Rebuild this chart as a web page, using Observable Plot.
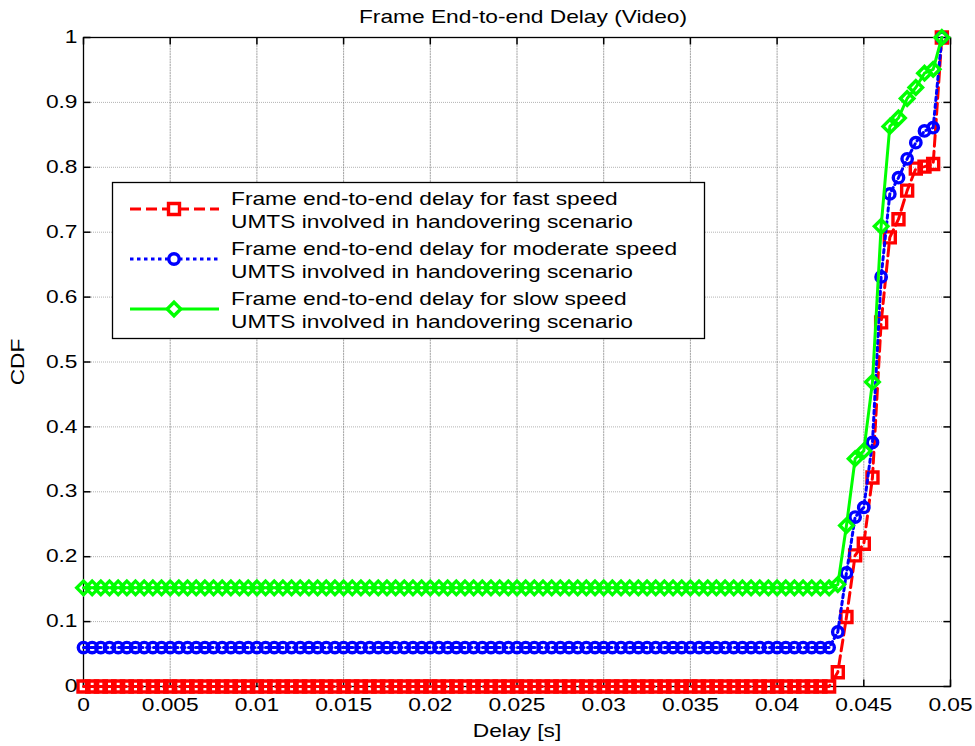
<!DOCTYPE html>
<html>
<head>
<meta charset="utf-8">
<script src="https://cdn.jsdelivr.net/npm/d3@7"></script>
<script src="https://cdn.jsdelivr.net/npm/@observablehq/plot@0.6"></script>
<style>
  body { margin: 0; background: #fff; }
  svg { display: block; }
</style>
</head>
<body>
<script>
// Delay sample points (s) at which each CDF was evaluated
const delay = [
  0, 0.0005, 0.001, 0.0015, 0.002, 0.0025, 0.003, 0.0035, 0.004, 0.0045,
  0.005, 0.0055, 0.006, 0.0065, 0.007, 0.0075, 0.008, 0.0085, 0.009, 0.0095,
  0.01, 0.0105, 0.011, 0.0115, 0.012, 0.0125, 0.013, 0.0135, 0.014, 0.0145,
  0.015, 0.0155, 0.016, 0.0165, 0.017, 0.0175, 0.018, 0.0185, 0.019, 0.0195,
  0.02, 0.0205, 0.021, 0.0215, 0.022, 0.0225, 0.023, 0.0235, 0.024, 0.0245,
  0.025, 0.0255, 0.026, 0.0265, 0.027, 0.0275, 0.028, 0.0285, 0.029, 0.0295,
  0.03, 0.0305, 0.031, 0.0315, 0.032, 0.0325, 0.033, 0.0335, 0.034, 0.0345,
  0.035, 0.0355, 0.036, 0.0365, 0.037, 0.0375, 0.038, 0.0385, 0.039, 0.0395,
  0.04, 0.0405, 0.041, 0.0415, 0.042, 0.0425, 0.043, 0.0435, 0.044, 0.0445,
  0.045, 0.0455, 0.046, 0.0465, 0.047, 0.0475, 0.048, 0.0485, 0.049, 0.0495
];

// CDF for fast speed UMTS handover
const fastCdf = [
  0, 0, 0, 0, 0, 0, 0, 0, 0, 0,
  0, 0, 0, 0, 0, 0, 0, 0, 0, 0,
  0, 0, 0, 0, 0, 0, 0, 0, 0, 0,
  0, 0, 0, 0, 0, 0, 0, 0, 0, 0,
  0, 0, 0, 0, 0, 0, 0, 0, 0, 0,
  0, 0, 0, 0, 0, 0, 0, 0, 0, 0,
  0, 0, 0, 0, 0, 0, 0, 0, 0, 0,
  0, 0, 0, 0, 0, 0, 0, 0, 0, 0,
  0, 0, 0, 0, 0, 0, 0, 0.022, 0.107, 0.202,
  0.220, 0.322, 0.561, 0.692, 0.720, 0.764, 0.798, 0.801, 0.805, 1.000
];

// CDF for moderate speed UMTS handover
const moderateCdf = [
  0.06, 0.06, 0.06, 0.06, 0.06, 0.06, 0.06, 0.06, 0.06, 0.06,
  0.06, 0.06, 0.06, 0.06, 0.06, 0.06, 0.06, 0.06, 0.06, 0.06,
  0.06, 0.06, 0.06, 0.06, 0.06, 0.06, 0.06, 0.06, 0.06, 0.06,
  0.06, 0.06, 0.06, 0.06, 0.06, 0.06, 0.06, 0.06, 0.06, 0.06,
  0.06, 0.06, 0.06, 0.06, 0.06, 0.06, 0.06, 0.06, 0.06, 0.06,
  0.06, 0.06, 0.06, 0.06, 0.06, 0.06, 0.06, 0.06, 0.06, 0.06,
  0.06, 0.06, 0.06, 0.06, 0.06, 0.06, 0.06, 0.06, 0.06, 0.06,
  0.06, 0.06, 0.06, 0.06, 0.06, 0.06, 0.06, 0.06, 0.06, 0.06,
  0.06, 0.06, 0.06, 0.06, 0.06, 0.06, 0.06, 0.084, 0.175, 0.261,
  0.276, 0.376, 0.631, 0.759, 0.784, 0.813, 0.838, 0.856, 0.861, 1.000
];

// CDF for slow speed UMTS handover
const slowCdf = [
  0.152, 0.152, 0.152, 0.152, 0.152, 0.152, 0.152, 0.152, 0.152, 0.152,
  0.152, 0.152, 0.152, 0.152, 0.152, 0.152, 0.152, 0.152, 0.152, 0.152,
  0.152, 0.152, 0.152, 0.152, 0.152, 0.152, 0.152, 0.152, 0.152, 0.152,
  0.152, 0.152, 0.152, 0.152, 0.152, 0.152, 0.152, 0.152, 0.152, 0.152,
  0.152, 0.152, 0.152, 0.152, 0.152, 0.152, 0.152, 0.152, 0.152, 0.152,
  0.152, 0.152, 0.152, 0.152, 0.152, 0.152, 0.152, 0.152, 0.152, 0.152,
  0.152, 0.152, 0.152, 0.152, 0.152, 0.152, 0.152, 0.152, 0.152, 0.152,
  0.152, 0.152, 0.152, 0.152, 0.152, 0.152, 0.152, 0.152, 0.152, 0.152,
  0.152, 0.152, 0.152, 0.152, 0.152, 0.152, 0.152, 0.157, 0.248, 0.351,
  0.363, 0.469, 0.709, 0.863, 0.876, 0.906, 0.923, 0.945, 0.951, 1.000
];

const xTicks = [0, 0.005, 0.01, 0.015, 0.02, 0.025, 0.03, 0.035, 0.04, 0.045, 0.05];
const xTickLabels = ["0", "0.005", "0.01", "0.015", "0.02", "0.025", "0.03", "0.035", "0.04", "0.045", "0.05"];
const yTicks = [0, 0.1, 0.2, 0.3, 0.4, 0.5, 0.6, 0.7, 0.8, 0.9, 1];
const yTickLabels = ["0", "0.1", "0.2", "0.3", "0.4", "0.5", "0.6", "0.7", "0.8", "0.9", "1"];

const titleText = "Frame End-to-end Delay (Video)";
const xLabel = "Delay [s]";
const yLabel = "CDF";
const legendLines = [
  ["Frame end-to-end delay for fast speed", "UMTS involved in handovering scenario"],
  ["Frame end-to-end delay for moderate speed", "UMTS involved in handovering scenario"],
  ["Frame end-to-end delay for slow speed", "UMTS involved in handovering scenario"]
];

// Marker shapes
const diamond = {
  draw(ctx, size) {
    const h = Math.sqrt(size / 2);
    ctx.moveTo(0, -h); ctx.lineTo(h, 0); ctx.lineTo(0, h); ctx.lineTo(-h, 0); ctx.closePath();
  }
};
const TICK = 7;
const tickUp = { draw(ctx) { ctx.moveTo(0, 0); ctx.lineTo(0, -TICK); } };
const tickDown = { draw(ctx) { ctx.moveTo(0, 0); ctx.lineTo(0, TICK); } };
const tickRight = { draw(ctx) { ctx.moveTo(0, 0); ctx.lineTo(TICK, 0); } };
const tickLeft = { draw(ctx) { ctx.moveTo(0, 0); ctx.lineTo(-TICK, 0); } };

const series = [
  { values: fastCdf, color: "#ff0000", dash: "11,5", symbol: "square", r: 6.2, sw: 3.4 },
  { values: moderateCdf, color: "#0000ff", dash: "3.5,3.5", symbol: "circle", r: 5.2, sw: 3.4 },
  { values: slowCdf, color: "#00ff00", dash: null, symbol: diamond, r: 5.4, sw: 3.4 }
];
const tables = series.map(s => delay.map((d, i) => ({ delay: d, cdf: s.values[i] })));

const FONT = "'Liberation Sans', Arial, Helvetica, sans-serif";
const FS = 17.5;
const STRETCH = 1.3;
const LINE_W = 3;

const seriesMarks = series.flatMap((s, k) => [
  Plot.line(tables[k], { x: "delay", y: "cdf", stroke: s.color, strokeWidth: LINE_W, strokeDasharray: s.dash }),
  Plot.dot(tables[k], { x: "delay", y: "cdf", symbol: () => s.symbol, r: s.r, stroke: s.color, strokeWidth: s.sw, fill: "none" })
]);

const svg = Plot.plot({
  width: 975,
  height: 746,
  marginLeft: 83,
  marginRight: 25,
  marginTop: 37,
  marginBottom: 60,
  style: { fontFamily: FONT, background: "#fff", color: "#000" },
  x: { domain: [0, 0.05], axis: null },
  y: { domain: [0, 1], axis: null },
  symbol: { type: "identity" },
  marks: [
    Plot.gridX(xTicks, { stroke: "#8a8a8a", strokeOpacity: 0.8, strokeDasharray: "2,0.7" }),
    Plot.gridY(yTicks, { stroke: "#808080", strokeOpacity: 0.6, strokeDasharray: "1,1" }),
    // inward ticks on all four sides
    Plot.dot(xTicks, { x: d => d, frameAnchor: "bottom", symbol: () => tickUp, stroke: "#000", fill: "none" }),
    Plot.dot(xTicks, { x: d => d, frameAnchor: "top", symbol: () => tickDown, stroke: "#000", fill: "none" }),
    Plot.dot(yTicks, { y: d => d, frameAnchor: "left", symbol: () => tickRight, stroke: "#000", fill: "none" }),
    Plot.dot(yTicks, { y: d => d, frameAnchor: "right", symbol: () => tickLeft, stroke: "#000", fill: "none" }),
    Plot.frame({ stroke: "#000", strokeWidth: 1.3 }),
    ...seriesMarks,
    // tick labels
    Plot.text(xTicks, { x: d => d, frameAnchor: "bottom", dy: 19, text: (d, i) => xTickLabels[i], fontSize: FS, textAnchor: "middle", lineAnchor: "middle", fill: "#000" }),
    Plot.text(yTicks, { y: d => d, frameAnchor: "left", dx: -6, text: (d, i) => yTickLabels[i], fontSize: FS, textAnchor: "end", lineAnchor: "middle", fill: "#000" }),
    // title and axis labels
    Plot.text([titleText], { frameAnchor: "top", dx: 6, dy: -20, text: d => d, fontSize: FS, textAnchor: "middle", lineAnchor: "middle", fill: "#000" }),
    Plot.text([xLabel], { frameAnchor: "bottom", dy: 45, text: d => d, fontSize: FS, textAnchor: "middle", lineAnchor: "middle", fill: "#000" }),
    Plot.text([yLabel], { frameAnchor: "left", dx: -65, rotate: -90, text: d => d, fontSize: FS, textAnchor: "middle", lineAnchor: "middle", fill: "#000" })
  ]
});

// widen the glyphs horizontally
d3.select(svg).selectAll('g[aria-label="text"] text').attr("transform", function () {
  return (this.getAttribute("transform") || "") + ` scale(${STRETCH},1)`;
});

// legend box
const lg = d3.select(svg).append("g")
  .attr("font-family", FONT).attr("font-size", FS).attr("text-anchor", "start");
lg.append("rect").attr("x", 112.5).attr("y", 182.5).attr("width", 592).attr("height", 156)
  .attr("fill", "#fff").attr("stroke", "#000").attr("stroke-width", 1.3);
const symPath = (sym, r) => d3.symbol().type(typeof sym === "string" ? (sym === "square" ? d3.symbolSquare : d3.symbolCircle) : sym).size(Math.PI * r * r)();
series.forEach((s, k) => {
  const cy = 209 + k * 50;
  lg.append("line").attr("x1", 130).attr("x2", 219).attr("y1", cy).attr("y2", cy)
    .attr("stroke", s.color).attr("stroke-width", LINE_W).attr("stroke-dasharray", s.dash);
  lg.append("path").attr("d", symPath(s.symbol, s.r)).attr("transform", `translate(174,${cy})`)
    .attr("fill", "#fff").attr("stroke", s.color).attr("stroke-width", s.sw);
  legendLines[k].forEach((t, j) => {
    lg.append("text").attr("transform", `translate(231,${cy - 10 + j * 23}) scale(${STRETCH},1)`)
      .attr("dy", "0.32em").attr("text-anchor", "start").attr("fill", "#000").text(t);
  });
});

document.body.appendChild(svg);
</script>
</body>
</html>
